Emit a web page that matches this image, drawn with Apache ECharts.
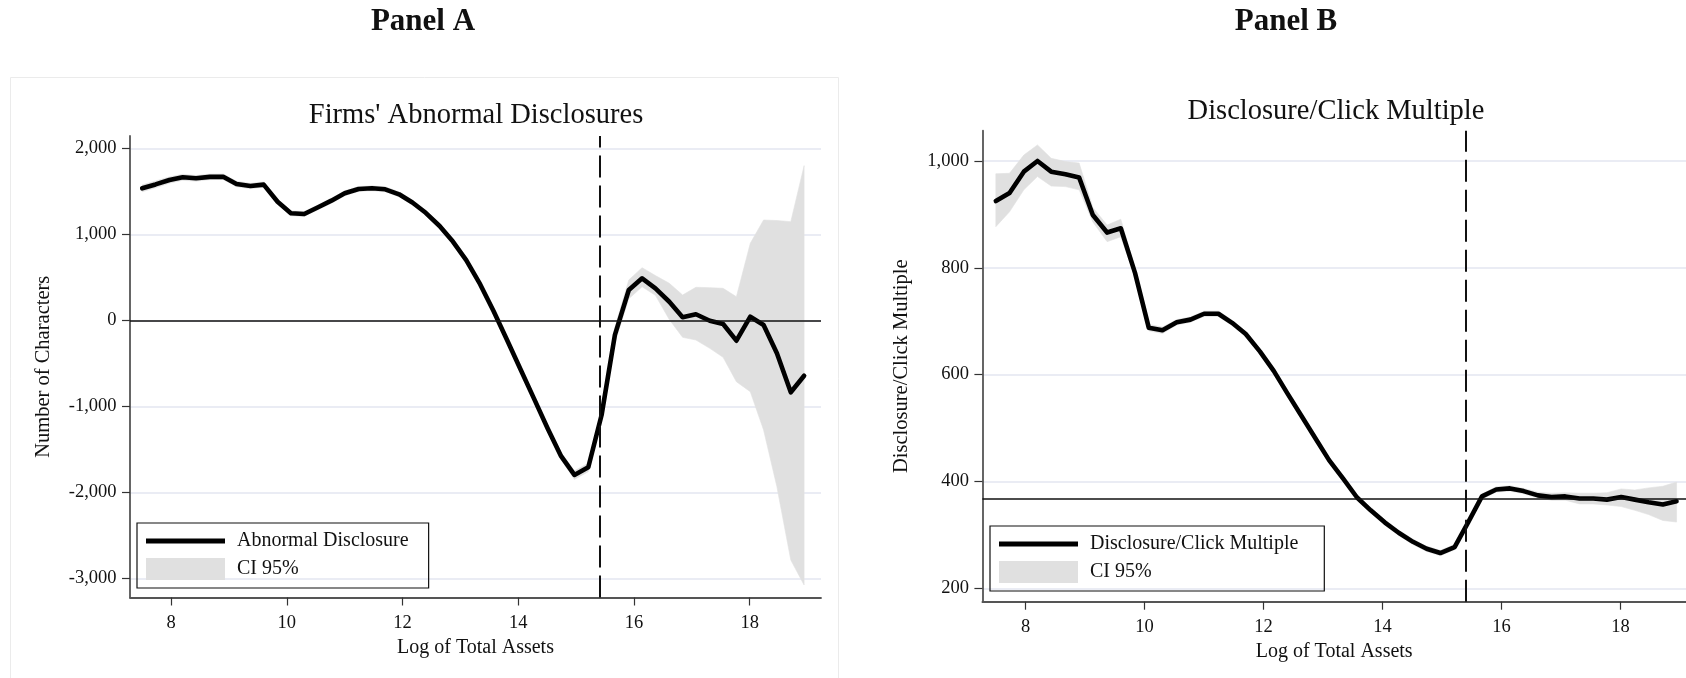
<!DOCTYPE html>
<html>
<head>
<meta charset="utf-8">
<script src="https://cdn.jsdelivr.net/npm/echarts@6.0.0/dist/echarts.min.js"></script>
<style>
  html, body { margin: 0; padding: 0; background: #ffffff; }
  #chart { width: 1686px; height: 678px; }
</style>
</head>
<body>
<div id="chart"></div>
<script>
// Bin centres on the log of total assets (shared by both panels)
const logAssets = [7.50, 7.73, 7.97, 8.20, 8.43, 8.67, 8.90, 9.13, 9.37, 9.60,
                   9.84, 10.07, 10.30, 10.54, 10.77, 11.00, 11.24, 11.47, 11.70, 11.94,
                   12.17, 12.40, 12.64, 12.87, 13.10, 13.34, 13.57, 13.80, 14.04, 14.27,
                   14.51, 14.74, 14.97, 15.21, 15.44, 15.67, 15.91, 16.14, 16.37, 16.61,
                   16.84, 17.07, 17.31, 17.54, 17.77, 18.01, 18.24, 18.47, 18.71, 18.94];

// Panel A: abnormal disclosure (number of characters) with 95% CI
const abnormalDisclosure = [1535, 1580, 1631, 1663, 1651, 1668, 1670, 1585, 1562, 1578,
                            1379, 1244, 1236, 1314, 1391, 1477, 1527, 1535, 1523, 1465,
                            1370, 1250, 1097, 915, 700, 420, 110, -220, -571, -908,
                            -1260, -1580, -1798, -1709, -1101, -170, 352, 488, 372, 216,
                            35, 70, -5, -43, -237, 42, -55, -384, -837, -644];
const abnormalLower = [1495, 1540, 1595, 1628, 1618, 1636, 1638, 1553, 1531, 1547,
                       1349, 1215, 1207, 1286, 1363, 1449, 1499, 1506, 1494, 1436,
                       1341, 1221, 1067, 885, 669, 388, 77, -254, -606, -944,
                       -1298, -1620, -1850, -1760, -1150, -260, 250, 390, 290, 10,
                       -198, -229, -326, -430, -714, -830, -1276, -1935, -2787, -3078];
const abnormalUpper = [1575, 1620, 1667, 1698, 1684, 1700, 1702, 1617, 1593, 1609,
                       1409, 1273, 1265, 1342, 1419, 1505, 1555, 1564, 1552, 1494,
                       1399, 1279, 1127, 945, 731, 452, 143, -186, -536, -872,
                       -1222, -1540, -1750, -1662, -1050, -80, 469, 612, 520, 430,
                       294, 384, 380, 372, 274, 895, 1166, 1160, 1147, 1798];

// Panel B: disclosure/click multiple with 95% CI
const clickMultiple = [925, 940, 980, 1000, 980, 975, 969, 899, 866, 874,
                       790, 688, 683, 698, 703, 714, 714, 697, 676, 643,
                       607, 565, 522, 481, 440, 405, 370, 346, 323, 304,
                       287, 274, 266, 277, 324, 372, 385, 387, 382, 374,
                       371, 372, 368, 368, 366, 371, 366, 361, 357, 363];
const clickLower = [877, 905, 946, 971, 953, 952, 946, 886, 849, 858,
                    782, 682, 677, 693, 698, 709, 709, 692, 671, 638,
                    602, 560, 517, 476, 435, 400, 365, 341, 318, 299,
                    282, 269, 261, 272, 319, 367, 380, 382, 377, 369,
                    365, 365, 358, 358, 356, 353, 346, 338, 327, 324];
const clickUpper = [976, 977, 1011, 1030, 1005, 999, 996, 913, 880, 891,
                    798, 694, 689, 703, 708, 719, 719, 702, 681, 648,
                    612, 570, 527, 486, 445, 410, 375, 351, 328, 309,
                    292, 279, 271, 282, 329, 377, 390, 392, 387, 380,
                    378, 379, 378, 378, 379, 386, 384, 388, 391, 399];

// Tick labels and reference lines
const xTicks = [8, 10, 12, 14, 16, 18];
const yTicksA = [-3000, -2000, -1000, 0, 1000, 2000];
const yTicksB = [200, 400, 600, 800, 1000];
const sizeCutoff = 15.4;
const baselineA = 0;
const baselineB = 367;

const FONT = '"Liberation Serif", "Times New Roman", serif';
const INK = '#111111';
const BAND = '#e0e0e0';
const GRIDLINE = '#e3e6f1';
const LINE_ICON = 'path://M0,0H80V5H0Z';

const pairs = (xs, ys) => xs.map((x, i) => [x, ys[i]]);
const fmt = v => Number(v).toLocaleString('en-US');

function xAxisFor(gridIndex, min, max) {
  return {
    type: 'value', gridIndex, min, max,
    name: 'Log of Total Assets', nameLocation: 'middle', nameGap: 36,
    nameTextStyle: { fontFamily: FONT, fontSize: 20, color: INK },
    axisLine: { show: true, onZero: false, lineStyle: { color: '#555555', width: 1.8 } },
    axisTick: { show: true, length: 8, customValues: xTicks, lineStyle: { color: '#333333', width: 1.2 } },
    axisLabel: { customValues: xTicks, margin: 16, fontFamily: FONT, fontSize: 18.5, color: INK },
    splitLine: { show: false }
  };
}

function yAxisFor(gridIndex, min, max, ticks, name, gap) {
  return {
    type: 'value', gridIndex, min, max,
    name, nameLocation: 'middle', nameGap: gap,
    nameTextStyle: { fontFamily: FONT, fontSize: 20.5, color: INK },
    axisLine: { show: true, onZero: false, lineStyle: { color: '#555555', width: 1.8 } },
    axisTick: { show: true, length: 8, customValues: ticks, lineStyle: { color: '#333333', width: 1.2 } },
    axisLabel: { customValues: ticks, margin: 13.5, fontFamily: FONT, fontSize: 18.5, color: INK, formatter: fmt },
    splitLine: { show: true, lineStyle: { color: GRIDLINE, width: 1.6 } }
  };
}

// Confidence band: one polygon running along the upper bound and back along the lower bound
function bandSeries(axisIndex, lower, upper) {
  return {
    name: 'CI 95%', type: 'custom', xAxisIndex: axisIndex, yAxisIndex: axisIndex,
    silent: true, z: 1, color: BAND,
    data: logAssets.map((x, i) => [x, lower[i], upper[i]]),
    encode: { x: 0, y: [1, 2] },
    renderItem: (params, api) => {
      if (params.dataIndex !== 0) return null;
      const top = logAssets.map((x, i) => api.coord([x, upper[i]]));
      const bottom = logAssets.map((x, i) => api.coord([x, lower[i]])).reverse();
      return {
        type: 'polygon',
        shape: { points: top.concat(bottom) },
        style: { fill: BAND, stroke: BAND, lineWidth: 0.6 }
      };
    }
  };
}

function panelSeries(axisIndex, lineName, values, lower, upper, baseline) {
  return [
    bandSeries(axisIndex, lower, upper),
    {
      name: 'ref-' + axisIndex, type: 'line', xAxisIndex: axisIndex, yAxisIndex: axisIndex,
      data: [], symbol: 'none', silent: true, z: 2,
      markLine: {
        silent: true, symbol: ['none', 'none'], animation: false,
        label: { show: false },
        data: [
          { yAxis: baseline, lineStyle: { type: 'solid', width: 1.6, color: INK } },
          { xAxis: sizeCutoff, lineStyle: { type: [22, 8], width: 2, color: INK } }
        ]
      }
    },
    {
      name: lineName, type: 'line', xAxisIndex: axisIndex, yAxisIndex: axisIndex,
      data: pairs(logAssets, values), symbol: 'none', showSymbol: false,
      color: '#000000', lineStyle: { color: '#000000', width: 4.6, join: 'round', cap: 'round' }, z: 3
    }
  ];
}

function legendFor(left, top, lineName, rightPad) {
  return {
    orient: 'vertical', left, top, selectedMode: false,
    borderColor: INK, borderWidth: 1.2, padding: [8, rightPad, 8, 9],
    itemWidth: 79, itemHeight: 22, itemGap: 7, symbolKeepAspect: true,
    textStyle: { fontFamily: FONT, fontSize: 20, color: INK, padding: [0, 0, 0, 7] },
    data: [
      { name: lineName, icon: LINE_ICON, itemStyle: { color: '#000000', borderWidth: 0 } },
      { name: 'CI 95%', icon: 'rect', itemStyle: { color: BAND, borderWidth: 0 } }
    ]
  };
}

function label(text, x, y, size, weight) {
  return {
    type: 'text', x, y, silent: true,
    style: { text, fontFamily: FONT, fontSize: size, fontWeight: weight || 'normal',
             fill: INK, align: 'center', verticalAlign: 'middle' }
  };
}

const chart = echarts.init(document.getElementById('chart'), null, { renderer: 'canvas' });
chart.setOption({
  animation: false,
  backgroundColor: '#ffffff',
  grid: [
    { left: 130, top: 136, width: 691, height: 461.5, outerBoundsMode: 'none' },
    { left: 982.4, top: 130.7, width: 703.6, height: 471, outerBoundsMode: 'none' }
  ],
  xAxis: [ xAxisFor(0, 7.289, 19.232), xAxisFor(1, 7.274, 19.099) ],
  yAxis: [
    yAxisFor(0, -3223, 2143, yTicksA, 'Number of Characters', 76),
    yAxisFor(1, 174.9, 1056.7, yTicksB, 'Disclosure/Click Multiple', 70)
  ],
  legend: [
    legendFor(137, 523, 'Abnormal Disclosure', 20),
    legendFor(990, 526, 'Disclosure/Click Multiple', 26)
  ],
  series: [
    ...panelSeries(0, 'Abnormal Disclosure', abnormalDisclosure, abnormalLower, abnormalUpper, baselineA),
    ...panelSeries(1, 'Disclosure/Click Multiple', clickMultiple, clickLower, clickUpper, baselineB)
  ],
  graphic: [
    {
      type: 'rect', silent: true, z: -10,
      shape: { x: 10.5, y: 77.5, width: 828, height: 640 },
      style: { fill: 'none', stroke: '#ebebeb', lineWidth: 1 }
    },
    label('Panel A', 423, 22, 31, 'bold'),
    label('Panel B', 1286, 22, 31, 'bold'),
    label("Firms' Abnormal Disclosures", 476, 116, 28.5),
    label('Disclosure/Click Multiple', 1336, 112, 28.5)
  ]
});
</script>
</body>
</html>
